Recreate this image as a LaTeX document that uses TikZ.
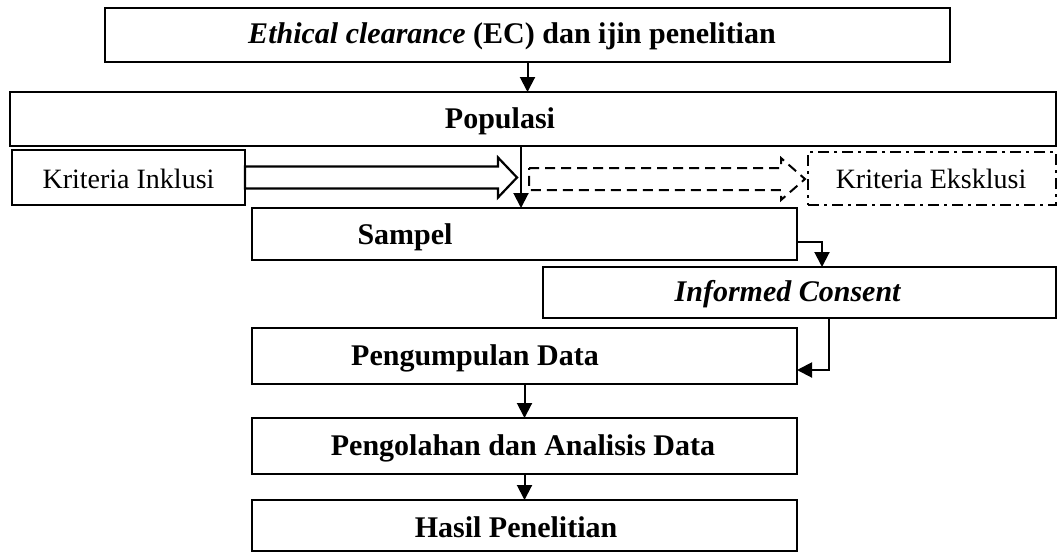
\documentclass[tikz,border=0pt]{standalone}
\usepackage{fontspec}
\setmainfont{Liberation Serif}
\usetikzlibrary{arrows.meta}
\begin{document}
\begin{tikzpicture}[x=1pt,y=-1pt,
  box/.style={draw, line width=2.2pt, inner sep=0pt, outer sep=0pt, rectangle},
  dashdotbox/.style={draw, line width=2pt, inner sep=0pt, outer sep=0pt, rectangle,
     dash pattern=on 11pt off 5pt on 3pt off 5pt},
  txt/.style={inner sep=0pt, font=\fontsize{28}{32}\selectfont},
  btxt/.style={inner sep=0pt, font=\fontsize{30}{34}\selectfont\bfseries},
  arr/.style={line width=2pt, -{Triangle[length=15pt,width=15pt]}},
  hollow/.style={draw, line width=2.2pt, fill=white, line join=miter},
  dashedarrow/.style={draw, line width=2pt, dash pattern=on 10pt off 6pt}
]
\useasboundingbox (0,0) rectangle (1059,558);

% boxes
\node[box, minimum width=845pt, minimum height=54pt] (ec) at (527.5,35) {};
\node[box, minimum width=1046pt, minimum height=54pt] (pop) at (533,119) {};
\node[box, minimum width=233pt, minimum height=55pt] (inkl) at (128.5,177.5) {};
\node[dashdotbox, minimum width=248pt, minimum height=53pt] (eksk) at (932,178.5) {};
\node[box, minimum width=545pt, minimum height=52pt] (sampel) at (524.5,234) {};
\node[box, minimum width=513pt, minimum height=51pt] (ic) at (799.5,292.5) {};
\node[box, minimum width=545pt, minimum height=56pt] (kumpul) at (524.5,356) {};
\node[box, minimum width=545pt, minimum height=56pt] (olah) at (524.5,446) {};
\node[box, minimum width=545pt, minimum height=51pt] (hasil) at (524.5,525.5) {};

% texts
\node[btxt] (ec-t) at (512,36) {\textit{Ethical clearance} (EC) dan ijin penelitian};
\node[btxt] (pop-t) at (500,121) {Populasi};
\node[txt] (inkl-t) at (128.5,179) {Kriteria Inklusi};
\node[txt] (eksk-t) at (931,179) {Kriteria Eksklusi};
\node[btxt] (sampel-t) at (405,237) {Sampel};
\node[btxt] (ic-t) at (788,294) {\textit{Informed Consent}};
\node[btxt] (kumpul-t) at (475,358) {Pengumpulan Data};
\node[btxt] (olah-t) at (523,448) {Pengolahan dan Analisis Data};
\node[btxt] (hasil-t) at (516,527) {Hasil Penelitian};

% connectors
\draw[arr] (ec.south) -- (ec.south |- pop.north);
\draw[arr] ([xshift=-12pt]pop.south) -- ([xshift=-12pt]pop.south |- sampel.north);
\draw[arr] ([yshift=-8pt]sampel.east) -| ([xshift=22.5pt]ic.north);
\draw[arr] ([xshift=29.5pt]ic.south) |- ([yshift=-14pt]kumpul.east);
\draw[arr] (kumpul.south) -- (olah.north);
\draw[arr] (olah.south) -- (hasil.north);

% hollow block arrow from Kriteria Inklusi
\draw[hollow] ([yshift=11pt]inkl.east) -- ++(253,0) -- ++(0,-9) -- ++(19,20)
   -- ++(-19,20) -- ++(0,-9) -- ++(-253,0) -- cycle;

% dashed block arrow to Kriteria Eksklusi
\coordinate (dstart) at (529,168);
\draw[dashedarrow] (dstart) -- ++(252,0) -- ++(0,-10) -- ++(24,21)
   -- ++(-24,21) -- ++(0,-10) -- ++(-252,0) -- cycle;
\end{tikzpicture}
\end{document}
